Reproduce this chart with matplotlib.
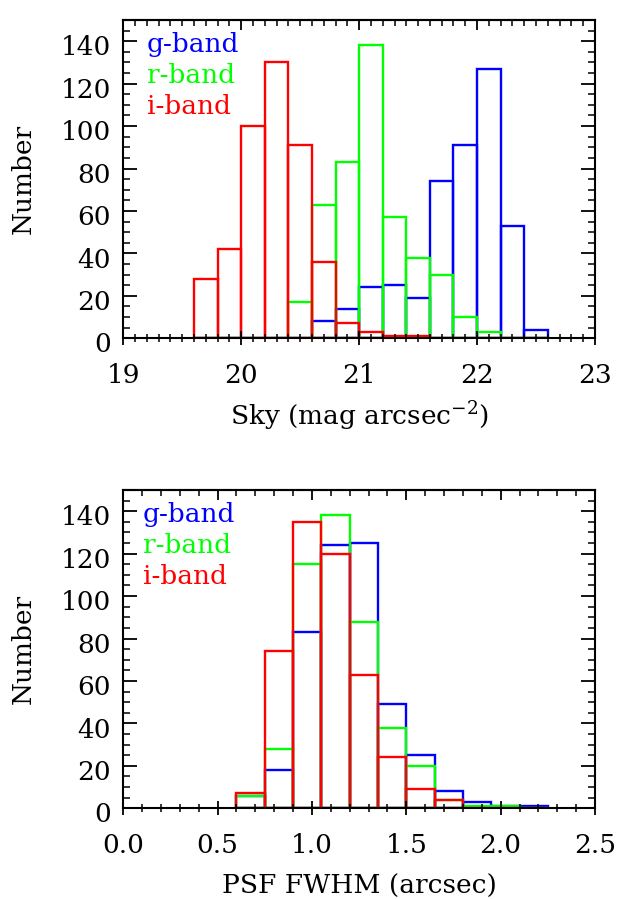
"""
Sky brightness and seeing histograms for the g, r and i bands (IDL-style look).
"""

import matplotlib
matplotlib.use("Agg")
import matplotlib.pyplot as plt
import matplotlib.transforms as mtransforms
import numpy as np
from matplotlib.ticker import MultipleLocator, FormatStrFormatter

plt.rcParams["font.family"] = ["DejaVu Serif"]
plt.rcParams["mathtext.fontset"] = "dejavuserif"

bands = ["g-band", "r-band", "i-band"]
band_colors = ["#0000ff", "#00ff00", "#ff0000"]

# top panel: sky brightness, bins of 0.2 mag starting at 19.6
sky_edges = [19.6, 19.8, 20.0, 20.2, 20.4, 20.6, 20.8, 21.0, 21.2, 21.4,
             21.6, 21.8, 22.0, 22.2, 22.4, 22.6]
sky_g = [0, 0, 0, 0, 0, 8, 14, 24, 25, 19, 74, 91, 127, 53, 4]
sky_r = [0, 0, 0, 0, 17, 63, 83, 138, 57, 38, 30, 10, 3, 0, 0]
sky_i = [28, 42, 100, 130, 91, 36, 7, 3, 1, 1, 0, 0, 0, 0, 0]

# bottom panel: PSF FWHM, bins of 0.15 arcsec starting at 0.6
psf_edges = [0.6, 0.75, 0.9, 1.05, 1.2, 1.35, 1.5, 1.65, 1.8, 1.95, 2.1, 2.25]
psf_g = [6, 18, 83, 124, 125, 49, 25, 8, 3, 1, 1]
psf_r = [6, 28, 115, 138, 88, 38, 20, 4, 1, 1, 0]
psf_i = [7, 74, 135, 120, 63, 24, 9, 4, 0, 0, 0]

FS = 19
LW = 1.7


def draw_hist(ax, edges, counts, color):
    edges = np.asarray(edges)
    ax.bar(edges[:-1], counts, width=np.diff(edges), align="edge",
           fill=False, edgecolor=color, linewidth=LW)


def style_axis(ax, xlim, xmajor, xminor, xlabel):
    ax.set_xlim(*xlim)
    ax.set_ylim(0, 150)
    ax.xaxis.set_major_locator(MultipleLocator(xmajor))
    ax.xaxis.set_minor_locator(MultipleLocator(xminor))
    ax.yaxis.set_major_locator(MultipleLocator(20))
    ax.yaxis.set_minor_locator(MultipleLocator(5))
    for s in ax.spines.values():
        s.set_linewidth(1.5)

    ax.tick_params(axis="x", which="major", direction="inout", length=10,
                   width=1.3, labelsize=FS, pad=13, top=False)
    ax.tick_params(axis="x", which="minor", direction="inout", length=6,
                   width=1.1, top=False)
    ax.tick_params(axis="y", which="major", direction="in", length=10,
                   width=1.3, labelsize=FS, pad=9, left=True, right=True)
    ax.tick_params(axis="y", which="minor", direction="in", length=5,
                   width=1.1, left=True, right=True)
    # IDL puts y labels a few pixels under the tick
    shift = mtransforms.ScaledTranslation(0, -3 / 72, ax.figure.dpi_scale_trans)
    for lab in ax.get_yticklabels():
        lab.set_transform(lab.get_transform() + shift)

    top = ax.secondary_xaxis("top")
    top.xaxis.set_major_locator(MultipleLocator(xmajor))
    top.xaxis.set_minor_locator(MultipleLocator(xminor))
    top.tick_params(which="major", direction="in", length=7, width=1.3,
                    labeltop=False)
    top.tick_params(which="minor", direction="in", length=4, width=1.1)
    top.spines["top"].set_linewidth(1.5)

    ax.set_xlabel(xlabel, fontsize=FS, va="center")
    ax.xaxis.set_label_coords(0.5, -0.245)
    ax.set_ylabel("Number", fontsize=FS, va="center")
    ax.yaxis.set_label_coords(-0.212, 0.5)


fig = plt.figure(figsize=(6.17, 8.99), dpi=100)
ax1 = fig.add_axes([0.1998, 0.6237, 0.7645, 0.3541])
ax2 = fig.add_axes([0.1998, 0.1009, 0.7645, 0.3541])

for counts, color in zip([sky_g, sky_r, sky_i], band_colors):
    draw_hist(ax1, sky_edges, counts, color)
for counts, color in zip([psf_g, psf_r, psf_i], band_colors):
    draw_hist(ax2, psf_edges, counts, color)

style_axis(ax1, (19, 23), 1, 0.1, "Sky (mag arcsec$^{-2}$)")
style_axis(ax2, (0, 2.5), 0.5, 0.1, "PSF FWHM (arcsec)")
ax2.xaxis.set_major_formatter(FormatStrFormatter("%.1f"))

for ax, x0 in [(ax1, 0.050), (ax2, 0.041)]:
    for k, (name, color) in enumerate(zip(bands, band_colors)):
        ax.text(x0, 0.900 - 0.098 * k, name, color=color, fontsize=FS,
                transform=ax.transAxes, ha="left", va="baseline")

fig.savefig("out.png", dpi=100)
